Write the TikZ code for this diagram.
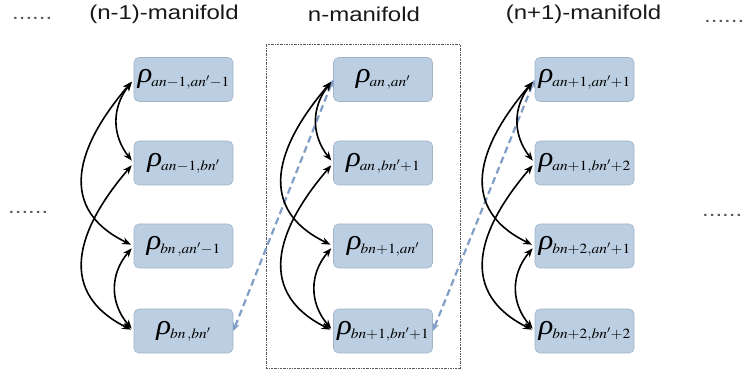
\documentclass[tikz,border=0pt]{standalone}
\usepackage{mathptmx}
\usepackage[no-math]{fontspec}
\setmainfont{Liberation Sans}
\newfontfamily\rhofont{Liberation Serif}
\usepackage{graphicx}
\usetikzlibrary{arrows.meta}
\definecolor{boxfill}{RGB}{188,206,225}
\definecolor{boxline}{RGB}{160,180,202}
\definecolor{dashblue}{RGB}{128,158,198}
\definecolor{titlec}{RGB}{25,25,25}
\definecolor{dotc}{RGB}{90,90,90}
\newcommand{\rl}[1]{\scalebox{1.1}[1]{{\fontsize{28}{28}\selectfont\rhofont\itshape ρ}\hspace{-1pt}\raisebox{-4pt}{\fontsize{14}{14}\selectfont$#1$}}}
\newcommand{\ttl}[1]{\scalebox{1.2}[1]{\fontsize{20}{20}\selectfont #1}}
\tikzset{
  rbox/.style={draw=boxline, fill=boxfill, rounded corners=5pt, minimum width=99pt, minimum height=44pt, inner sep=0pt, line width=0.6pt},
  barr/.style={{Stealth[length=9pt,width=7pt]}-{Stealth[length=9pt,width=7pt]}, line width=1.6pt, black, shorten <=3pt, shorten >=3pt},
  darr/.style={{Stealth[length=8pt,width=7pt]}-{Stealth[length=8pt,width=7pt]}, line width=2.2pt, dashblue, dash pattern=on 7pt off 4pt},
  ttlnode/.style={text=titlec, inner sep=0pt},
  dotsnode/.style={text=dotc, inner sep=0pt, anchor=base west},
  frame/.style={draw=black!65, line width=0.6pt, dash pattern=on 2pt off 1pt on 0.6pt off 1pt, minimum width=194pt, minimum height=324pt, inner sep=0pt}
}
\begin{document}
\begin{tikzpicture}[x=1pt,y=-1pt]
\useasboundingbox (0,0) rectangle (748,377);
\node[frame] (fr) at (363,206) {};
\node[ttlnode] (t1) at (164,14) {\ttl{(n-1)-manifold}};
\node[ttlnode] (t2) at (364,14) {\ttl{n-manifold}};
\node[ttlnode] (t3) at (583.5,14) {\ttl{(n+1)-manifold}};
\node[dotsnode] (d1) at (12,20) {\ttl{......}};
\node[dotsnode] (d2) at (704,23) {\ttl{......}};
\node[dotsnode] (d3) at (8,214) {\ttl{......}};
\node[dotsnode] (d4) at (702,217) {\ttl{......}};
% column 1
\node[rbox] (a1) at (183.5,79.5) {\rl{an{-}1{,}an'{-}1}};
\node[rbox] (a2) at (183.5,163) {\rl{an{-}1{,}bn'}};
\node[rbox] (a3) at (183.5,246) {\rl{bn\,{,}an'{-}1}};
\node[rbox] (a4) at (183.5,331) {\rl{bn\,{,}bn'}};
% column 2
\node[rbox] (b1) at (383,79.5) {\rl{an\,{,}an'}};
\node[rbox] (b2) at (383,163) {\rl{an\,{,}bn'{+}1}};
\node[rbox] (b3) at (383,246) {\rl{bn{+}1{,}an'}};
\node[rbox] (b4) at (383,331) {\rl{bn{+}1{,}bn'{+}1}};
% column 3
\node[rbox] (c1) at (584.5,79.5) {\rl{an{+}1{,}an'{+}1}};
\node[rbox] (c2) at (584.5,163) {\rl{an{+}1{,}bn'{+}2}};
\node[rbox] (c3) at (584.5,246) {\rl{bn{+}2{,}an'{+}1}};
\node[rbox] (c4) at (584.5,331) {\rl{bn{+}2{,}bn'{+}2}};
% dashed links
\draw[darr] (a4.east) -- (b1.west);
\draw[darr] (b4.east) -- (c1.west);
% black arrows
\foreach \c in {a,b,c}{
  \draw[barr] (\c1.west) .. controls +(-22,28) and +(-22,-28) .. (\c2.west);
  \draw[barr] (\c3.west) .. controls +(-24,28) and +(-24,-28) .. (\c4.west);
  \draw[barr] (\c1.west) .. controls +(-49,57) and +(-84,-41) .. (\c3.west);
  \draw[barr] (\c2.west) .. controls +(-49,57) and +(-84,-42) .. (\c4.west);
}
\end{tikzpicture}
\end{document}
